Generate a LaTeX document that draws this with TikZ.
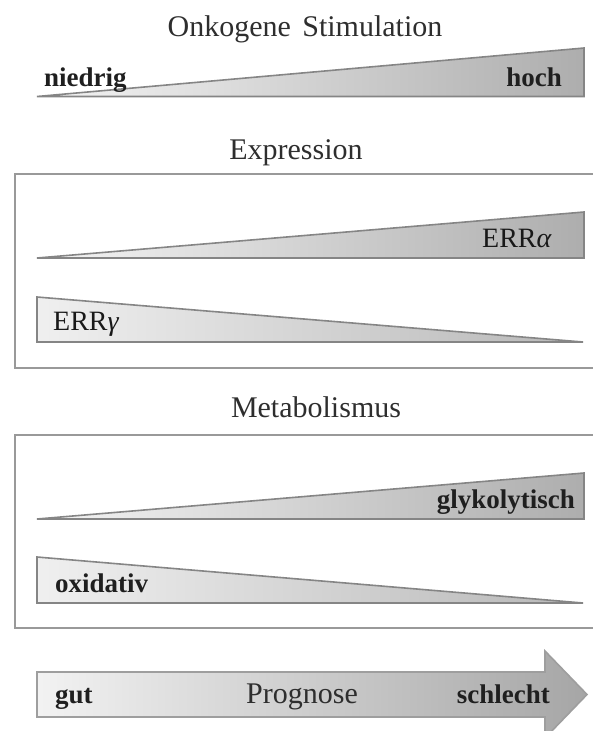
\documentclass[tikz,border=0pt]{standalone}
\usepackage{fontspec}
\setmainfont{Liberation Serif}
\begin{document}
\begin{tikzpicture}[x=1pt,y=-1pt,
  wedge/.style={draw=black!48,line width=1.6pt,line join=miter},
  frame/.style={draw=black!40,line width=1.8pt},
  heading/.style={font=\fontsize{30}{30}\selectfont,text=black!82,inner sep=0pt},
  lbl/.style={font=\fontsize{27}{27}\selectfont\bfseries,text=black!88,inner sep=0pt},
  lblr/.style={font=\fontsize{28}{28}\selectfont,text=black!90,inner sep=0pt}]
\useasboundingbox (0,0) rectangle (593,731);
\clip (0,0) rectangle (593,731);
% Onkogene Stimulation
\node[heading,anchor=base] (t1) at (305,36) {Onkogene\hspace{4pt} Stimulation};
\draw[wedge,left color=black!4,right color=black!32] (37,96.5) -- (584,48) -- (584,96.5) -- cycle;
\node[lbl,anchor=base west] (niedrig) at (44,86) {niedrig};
\node[lbl,anchor=base east] (hoch) at (562,86) {hoch};
% Expression
\node[heading,anchor=base] (t2) at (296,159) {Expression};
\draw[frame] (15,174) rectangle (620,368);
\draw[wedge,left color=black!4,right color=black!32] (37,258) -- (584,212) -- (584,258) -- cycle;
\node[lblr,anchor=base east] (erra) at (552,247) {ERR\emph{α}};
\draw[wedge,left color=black!6,right color=black!28] (37,297) -- (37,342) -- (583,342) -- cycle;
\node[lblr,anchor=base west] (errg) at (53,330) {ERR\emph{γ}};
% Metabolismus
\node[heading,anchor=base] (t3) at (316,417) {Metabolismus};
\draw[frame] (15,435) rectangle (620,628);
\draw[wedge,left color=black!4,right color=black!32] (37,519) -- (584,473) -- (584,519) -- cycle;
\node[lbl,anchor=base east] (glyk) at (575,508) {glykolytisch};
\draw[wedge,left color=black!6,right color=black!28] (37,557) -- (37,603) -- (583,603) -- cycle;
\node[lbl,anchor=base west] (oxid) at (55,592) {oxidativ};
% Prognose arrow
\draw[wedge,draw=black!38,left color=black!5,right color=black!35]
  (37,672) -- (545,672) -- (545,651) -- (587,694.5) -- (545,738) -- (545,717) -- (37,717) -- cycle;
\node[lbl,anchor=base west] (gut) at (55,703) {gut};
\node[heading,anchor=base] (prog) at (302,703) {Prognose};
\node[lbl,anchor=base east] (schlecht) at (550,703) {schlecht};
\end{tikzpicture}
\end{document}
